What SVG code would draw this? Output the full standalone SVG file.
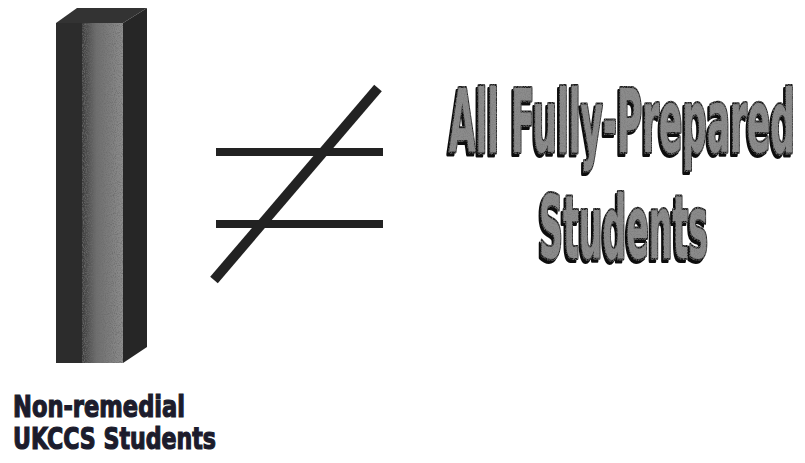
<svg xmlns="http://www.w3.org/2000/svg" width="805" height="463" viewBox="0 0 805 463">
<style>
.big{font-family:"Liberation Sans Narrow","DejaVu Sans Condensed","Liberation Sans",sans-serif;font-weight:bold;fill:#8c8c8c;stroke:#1e1e1e;stroke-width:4;stroke-linejoin:round;paint-order:stroke;font-size:88px}
.lbl{font-family:"Liberation Sans Narrow","DejaVu Sans Condensed","Liberation Sans",sans-serif;font-weight:bold;fill:#1c1c2c;stroke:#1c1c2c;stroke-width:1.2;font-size:30px}
.ne{stroke:#222;stroke-linecap:butt;fill:none}
</style>
<defs>
<linearGradient id="front" x1="0" y1="0" x2="1" y2="0">
<stop offset="0" stop-color="#2a2a2a"/>
<stop offset="0.35" stop-color="#333"/>
<stop offset="0.6" stop-color="#6e6e6e"/>
<stop offset="1" stop-color="#8e8e8e"/>
</linearGradient>
<filter id="speck" x="0" y="0" width="1" height="1">
<feTurbulence type="fractalNoise" baseFrequency="0.9" numOctaves="2" seed="3" result="n"/>
<feColorMatrix in="n" type="matrix" values="0 0 0 0 0.15  0 0 0 0 0.15  0 0 0 0 0.15  2.2 0 0 0 -0.9" result="d"/>
<feComposite in="d" in2="SourceAlpha" operator="in" result="dm"/>
<feMerge><feMergeNode in="SourceGraphic"/><feMergeNode in="dm"/></feMerge>
</filter>
<filter id="txt" x="-5%" y="-10%" width="110%" height="125%">
<feOffset in="SourceAlpha" dx="-2" dy="3" result="o"/>
<feFlood flood-color="#111"/>
<feComposite in2="o" operator="in" result="sh"/>
<feTurbulence type="fractalNoise" baseFrequency="0.9" numOctaves="2" seed="5" result="n"/>
<feColorMatrix in="n" type="matrix" values="0 0 0 0 0.2  0 0 0 0 0.2  0 0 0 0 0.2  2.2 0 0 0 -0.9" result="d"/>
<feComposite in="d" in2="SourceAlpha" operator="in" result="dm"/>
<feMerge><feMergeNode in="sh"/><feMergeNode in="SourceGraphic"/><feMergeNode in="dm"/></feMerge>
</filter>
</defs>
<rect width="805" height="463" fill="#ffffff"/>

<g id="bar">
<polygon points="56,23 77,8 147,8 123,23" fill="#333"/>
<polygon points="123,23 147,8 147,347 123,363" fill="#262626"/>
<rect x="56" y="23" width="67" height="340" fill="url(#front)" filter="url(#speck)"/>
<rect x="56" y="23" width="26" height="340" fill="#2c2c2c"/>
</g>

<g id="not-equal">
<line class="ne" x1="216" y1="152" x2="383" y2="152" stroke-width="8"/>
<line class="ne" x1="216" y1="224" x2="383" y2="224" stroke-width="8"/>
<line class="ne" x1="214" y1="280" x2="378" y2="88" stroke-width="10"/>
</g>

<g id="fully-prepared" filter="url(#txt)">
<text class="big" transform="translate(449,152) scale(0.38,1)" x="0" y="0" textLength="910" lengthAdjust="spacingAndGlyphs">All Fully-Prepared</text>
<text class="big" transform="translate(539,258) scale(0.38,1)" x="0" y="0" textLength="445" lengthAdjust="spacingAndGlyphs">Students</text>
</g>

<g id="label">
<text class="lbl" x="13" y="417" textLength="172" lengthAdjust="spacingAndGlyphs">Non-remedial</text>
<text class="lbl" x="13" y="449" textLength="203" lengthAdjust="spacingAndGlyphs">UKCCS Students</text>
</g>
</svg>
